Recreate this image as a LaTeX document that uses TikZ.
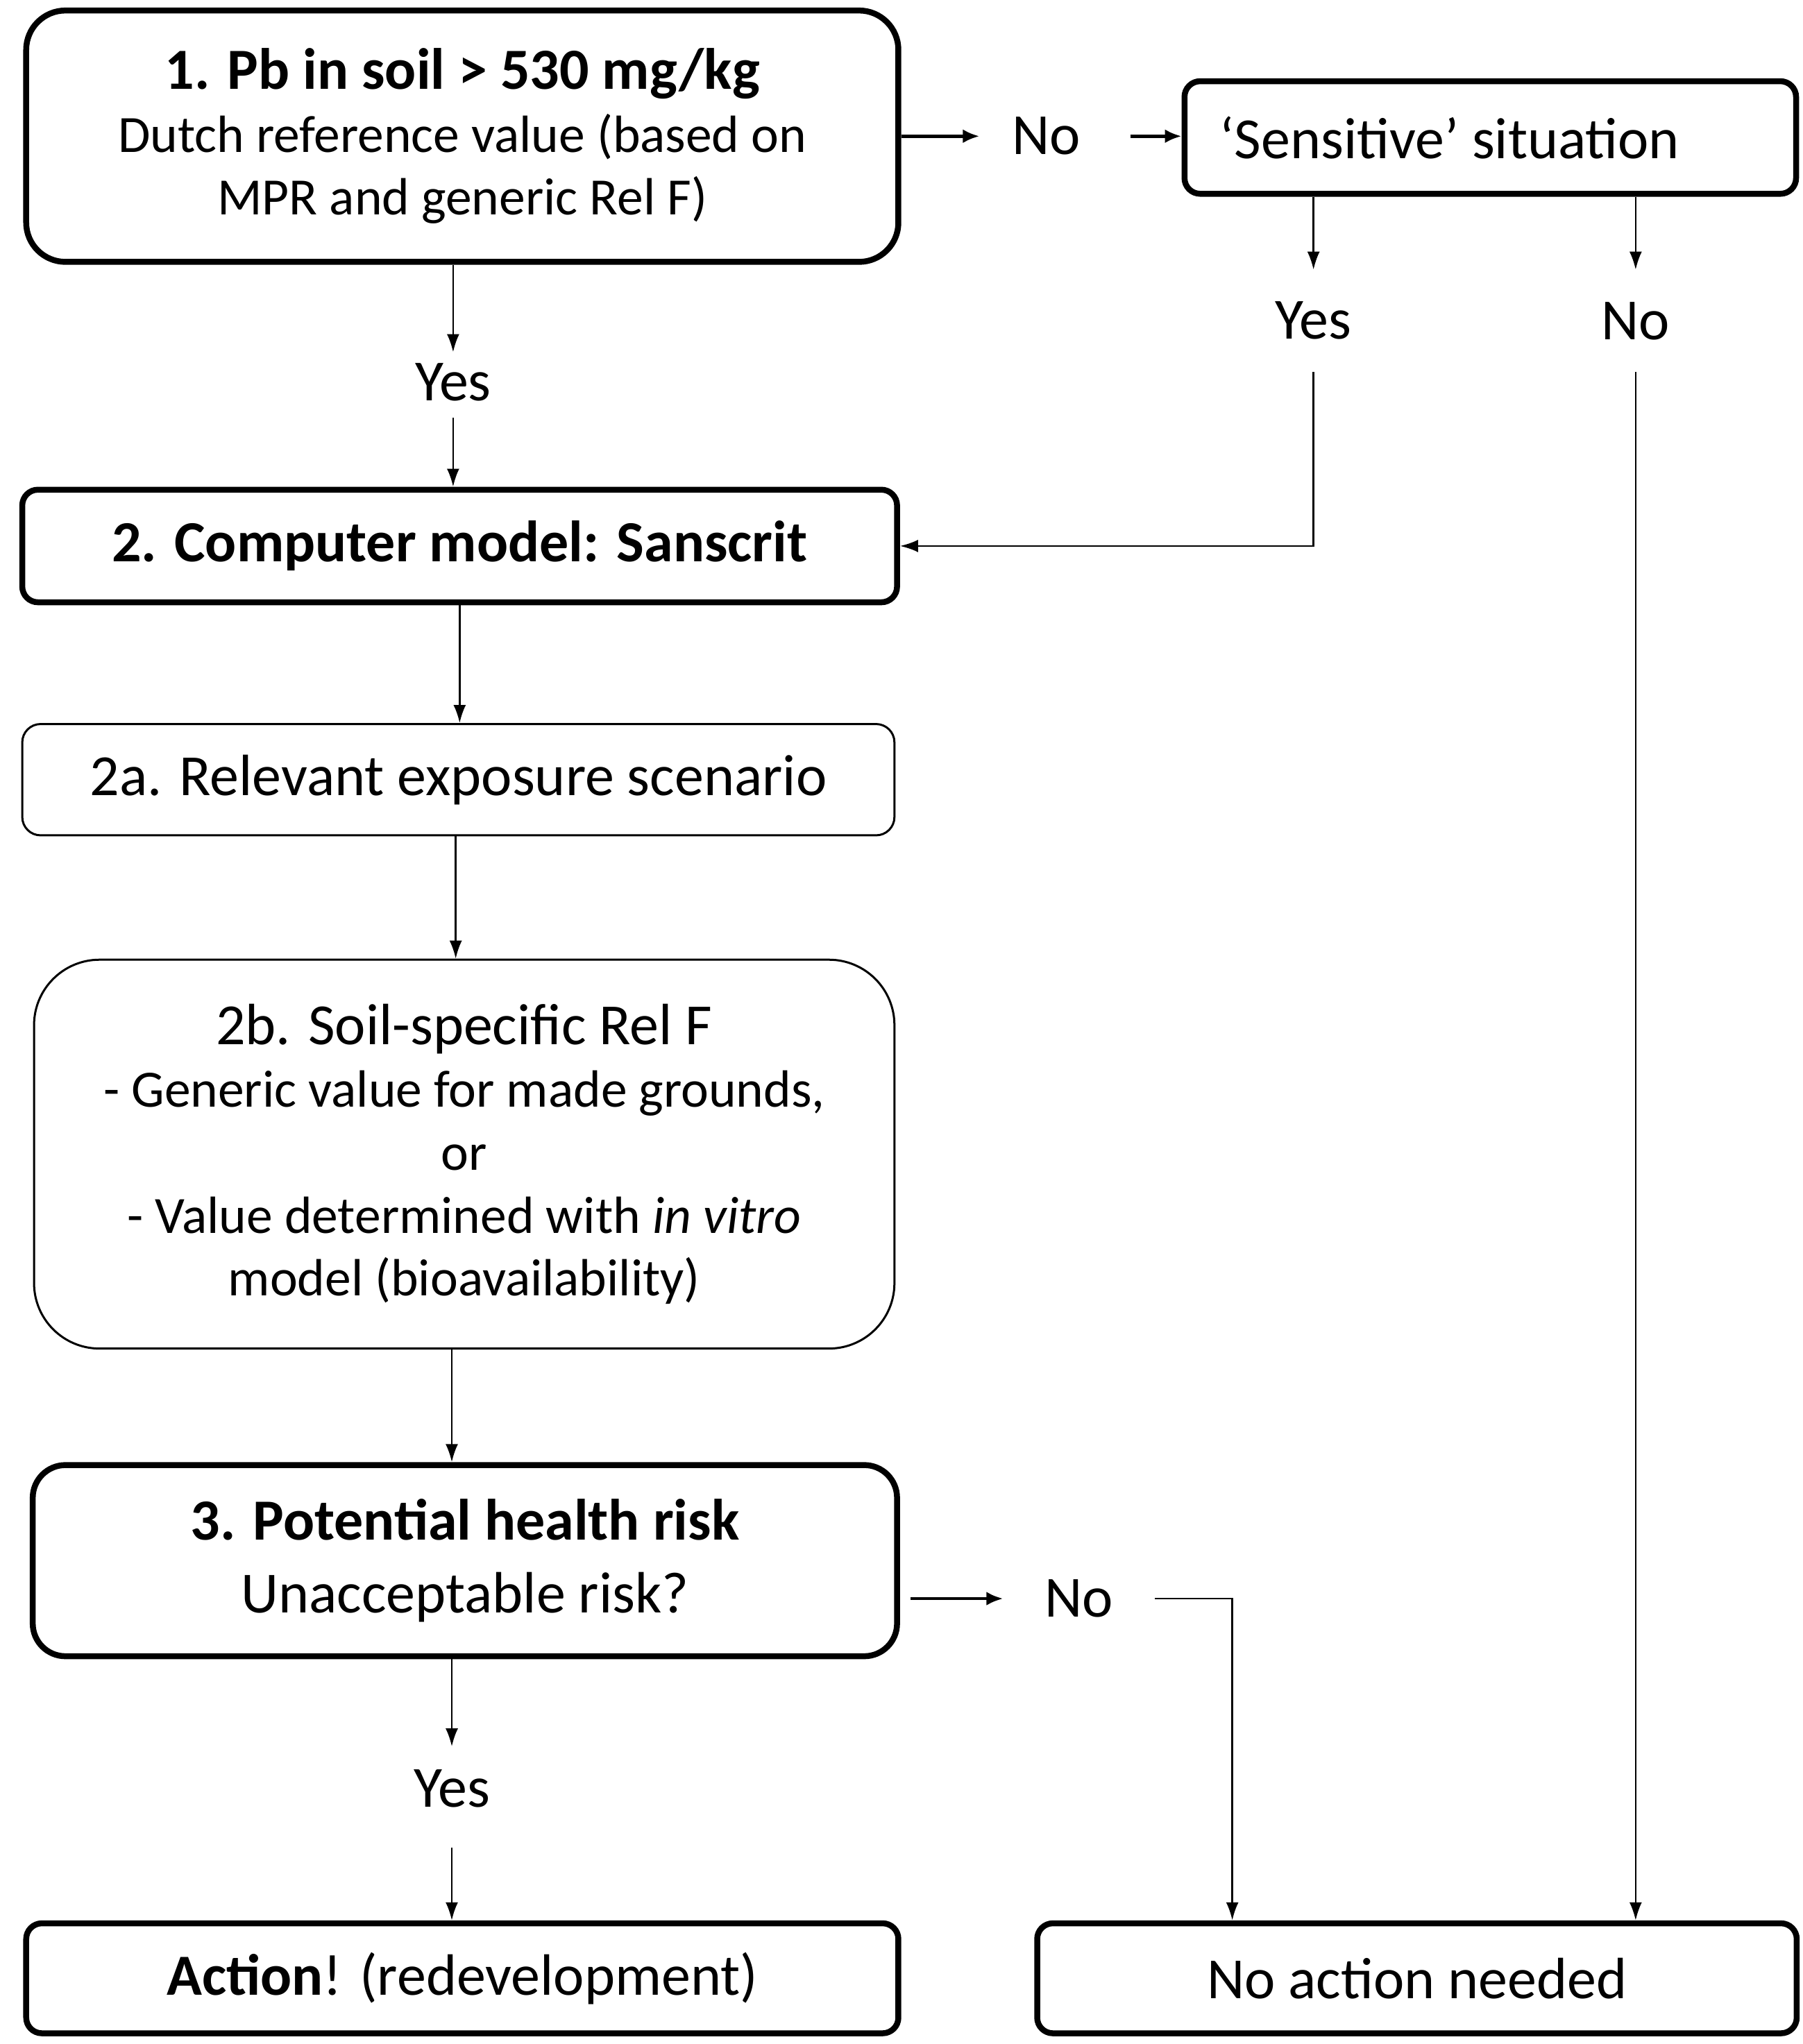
\documentclass[tikz,border=0pt]{standalone}
\usepackage{fontspec}
\setmainfont{Carlito}
\usetikzlibrary{arrows.meta}
\def\U{0.1887pt}
\newcommand\smtxt{\fontsize{7.55}{9.06}\selectfont}
\tikzset{
  box/.style={draw=black, fill=white, align=center, inner sep=0pt, font=\fontsize{8.4}{9.06}\selectfont},
  thickbox/.style={box, line width=0.85pt},
  thinbox/.style={box, line width=0.3pt},
  lab/.style={inner sep=0pt, font=\fontsize{8.4}{9.06}\selectfont, minimum height=44*\U},
  arr/.style={line width=0.25pt, -{Latex[length=2.6pt,width=1.8pt]}},
  harr/.style={line width=0.45pt, -{Latex[length=2.4pt,width=2.0pt]}},
}
\begin{document}
\begin{tikzpicture}[x=0.1887pt,y=-0.1887pt]
\useasboundingbox (0,0) rectangle (1376.3,1561.2);
% boxes
\node[thickbox, rounded corners=30*\U, minimum width=666*\U, minimum height=192*\U] (box1) at (353,104)
  {\textbf{1. Pb in soil > 530 mg/kg}\\{\smtxt Dutch reference value (based on}\\{\smtxt MPR and generic Rel F)}};
\node[thickbox, rounded corners=12*\U, minimum width=467*\U, minimum height=86*\U] (sens) at (1138,105)
  {‘Sensitive’ situation\hspace*{11.7pt}};
\node[thickbox, rounded corners=12*\U, minimum width=668*\U, minimum height=86*\U] (box2) at (351,417)
  {\textbf{2. Computer model: Sanscrit}};
\node[thinbox, rounded corners=14*\U, minimum width=666*\U, minimum height=85*\U] (b2a) at (350,595.5)
  {2a. Relevant exposure scenario};
\node[thinbox, rounded corners=50*\U, minimum width=657*\U, minimum height=297*\U] (b2b) at (354.5,881.5)
  {2b. Soil-specific Rel F\\{\smtxt - Generic value for made grounds,}\\{\smtxt or}\\{\smtxt - Value determined with \emph{in vitro}}\\{\smtxt model (bioavailability)}};
\node[thickbox, rounded corners=25*\U, minimum width=660*\U, minimum height=146*\U] (box3) at (355,1192)
  {\textbf{3. Potential health risk}\\[1.5pt]Unacceptable risk?};
\node[thickbox, rounded corners=12*\U, minimum width=666*\U, minimum height=84*\U] (act) at (353,1511)
  {\textbf{Action}! (redevelopment)};
\node[thickbox, rounded corners=12*\U, minimum width=580*\U, minimum height=84*\U] (noact) at (1082,1511)
  {No action needed};
% labels
\node[lab, minimum width=100*\U] (n1) at (799,104) {No};
\node[lab, minimum height=76*\U] (ys) at (1003,245) {Yes};
\node[lab, minimum height=76*\U] (ns) at (1249,245) {No};
\node[lab] (y1) at (346,292) {Yes};
\node[lab, minimum width=114*\U] (n3) at (824,1221) {No};
\node[lab, minimum height=62*\U] (y3) at (345,1366) {Yes};
\coordinate (c3) at (941,1221);
\coordinate (x2a) at (348,0);
% connectors
\draw[harr] (box1.east |- n1) -- (n1.west);
\draw[harr, shorten <=13*\U] (n1.east) -- (sens.west |- n1);
\draw[arr] (sens.south -| ys) -- (ys.north);
\draw[arr] (sens.south -| ns) -- (ns.north);
\draw[arr] (ys.south) |- (box2.east);
\draw[arr] (ns.south) -- (noact.north -| ns);
\draw[arr] (box1.south -| y1) -- (y1.north);
\draw[arr, shorten <=4*\U] (y1.south) -- (box2.north -| y1);
\draw[arr] (box2.south) -- (box2.south |- b2a.north);
\draw[arr] (b2a.south -| x2a) -- (b2b.north -| x2a);
\draw[arr] (b2b.south -| y3) -- (box3.north -| y3);
\draw[harr, shorten <=8*\U] (box3.east |- n3) -- (n3.west);
\draw[arr] (n3.east) -- (c3) -- (c3 |- noact.north);
\draw[arr] (box3.south -| y3) -- (y3.north);
\draw[arr, shorten <=13*\U] (y3.south) -- (act.north -| y3);
\end{tikzpicture}
\end{document}
